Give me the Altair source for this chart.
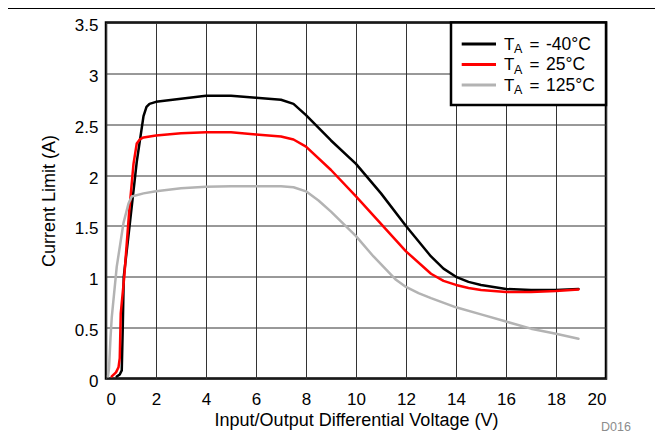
import altair as alt
import pandas as pd

# ---------------- data ----------------
series_names = ["-40°C", "25°C", "125°C"]
series_colors = ["#000000", "#ff0000", "#b3b3b3"]

x_m40 = [0.43, 0.55, 0.63, 0.67, 0.71, 0.85, 0.97, 1.23, 1.50, 1.62, 1.74, 2.0, 3.0, 4.0, 5.0, 6.0, 7.0, 7.5,
         8.0, 9.0, 10.0, 11.0, 12.0, 13.0, 13.5, 14.0, 14.5, 15.0, 16.0, 17.0, 18.0, 18.9]
y_m40 = [0.02, 0.04, 0.08, 0.50, 1.00, 1.30, 1.56, 2.13, 2.58, 2.67, 2.70, 2.72, 2.75, 2.78, 2.78, 2.76, 2.74, 2.70,
         2.59, 2.34, 2.11, 1.82, 1.50, 1.20, 1.08, 1.00, 0.95, 0.92, 0.88, 0.87, 0.87, 0.88]

x_25 = [0.23, 0.40, 0.50, 0.55, 0.59, 0.73, 0.92, 1.10, 1.23, 1.35, 1.50, 2.0, 3.0, 4.0, 5.0, 6.0, 7.0, 7.5,
        8.0, 9.0, 10.0, 11.0, 12.0, 13.0, 13.5, 14.0, 14.5, 15.0, 16.0, 17.0, 18.0, 18.9]
y_25 = [0.02, 0.06, 0.11, 0.20, 0.64, 1.00, 1.62, 2.11, 2.31, 2.35, 2.37, 2.39, 2.41, 2.42, 2.42, 2.40, 2.38, 2.35,
        2.28, 2.05, 1.79, 1.52, 1.25, 1.03, 0.96, 0.92, 0.89, 0.87, 0.85, 0.85, 0.86, 0.875]

x_125 = [0.08, 0.12, 0.18, 0.23, 0.43, 0.70, 0.90, 1.03, 1.5, 2.0, 3.0, 4.0, 5.0, 6.0, 7.0, 7.5,
         8.0, 8.5, 9.0, 10.0, 10.7, 11.6, 12.0, 12.5, 13.0, 14.0, 15.0, 16.0, 17.0, 18.0, 18.9]
y_125 = [0.02, 0.10, 0.40, 0.60, 1.10, 1.53, 1.72, 1.79, 1.82, 1.84, 1.87, 1.885, 1.89, 1.89, 1.89, 1.88,
         1.84, 1.75, 1.64, 1.40, 1.20, 0.97, 0.90, 0.84, 0.79, 0.70, 0.63, 0.56, 0.49, 0.44, 0.39]

x_ticks = [0, 2, 4, 6, 8, 10, 12, 14, 16, 18, 20]
y_ticks = [0, 0.5, 1, 1.5, 2, 2.5, 3, 3.5]

x_title = "Input/Output Differential Voltage (V)"
y_title = "Current Limit (A)"
doc_id = "D016"

FONT = "Liberation Sans"

rows = []
for name, xs, ys in zip(series_names, [x_m40, x_25, x_125], [y_m40, y_25, y_125]):
    for k, (a, b) in enumerate(zip(xs, ys)):
        rows.append({"series": name, "v": a, "i": b, "k": k})
df = pd.DataFrame(rows)

one = pd.DataFrame({"d": [0]})

# ---------------- main lines ----------------
lines = alt.Chart(df).mark_line(strokeWidth=2.5, strokeJoin="round", strokeCap="round").encode(
    x=alt.X("v:Q", scale=alt.Scale(domain=[0, 20], nice=False, zero=False),
            axis=alt.Axis(values=x_ticks, title=x_title, format="~g",
                          labelPadding=12.5, titleBaseline="alphabetic", titleY=47, titleX=250)),
    y=alt.Y("i:Q", scale=alt.Scale(domain=[0, 3.5], nice=False),
            axis=alt.Axis(values=y_ticks, title=y_title, format="~g",
                          labelPadding=8, labelOffset=3,
                          titleBaseline="alphabetic", titleX=-52, titleY=178)),
    color=alt.Color("series:N", scale=alt.Scale(domain=series_names, range=series_colors), legend=None),
    order="k:Q",
)

# ---------------- manual legend ----------------
LF = 17
legend_layers = [
    alt.Chart(one).mark_rect(fill="white", stroke="black", strokeWidth=2.5).encode(
        x=alt.value(345), x2=alt.value(500), y=alt.value(0), y2=alt.value(82.5))
]
for idx, (name, col) in enumerate(zip(series_names, series_colors)):
    sy = 21.5 + 20.5 * idx
    ty = 27 + 20.5 * idx
    legend_layers.append(
        alt.Chart(one).mark_rule(color=col, strokeWidth=3).encode(
            x=alt.value(355.7), x2=alt.value(390), y=alt.value(sy)))
    legend_layers.append(
        alt.Chart(pd.DataFrame({"t": ["T"]})).mark_text(
            font=FONT, fontSize=LF, align="left", baseline="alphabetic", color="black").encode(
            x=alt.value(398), y=alt.value(ty), text="t:N"))
    legend_layers.append(
        alt.Chart(pd.DataFrame({"t": ["A"]})).mark_text(
            font=FONT, fontSize=12.5, align="left", baseline="alphabetic", color="black").encode(
            x=alt.value(408), y=alt.value(ty + 3.7), text="t:N"))
    legend_layers.append(
        alt.Chart(pd.DataFrame({"t": ["="]})).mark_text(
            font=FONT, fontSize=LF, align="left", baseline="alphabetic", color="black").encode(
            x=alt.value(423.5), y=alt.value(ty), text="t:N"))
    legend_layers.append(
        alt.Chart(pd.DataFrame({"t": [name]})).mark_text(
            font=FONT, fontSize=LF + 0.5, align="left", baseline="alphabetic", color="black").encode(
            x=alt.value(440), y=alt.value(ty), text="t:N"))

# ---------------- decorations ----------------
top_rule = alt.Chart(one).mark_rule(color="black", strokeWidth=1).encode(
    x=alt.value(-98), x2=alt.value(549), y=alt.value(-14))

doc_text = alt.Chart(pd.DataFrame({"t": [doc_id]})).mark_text(
    font=FONT, fontSize=12.5, align="left", baseline="alphabetic", color="#8c8c8c").encode(
    x=alt.value(495), y=alt.value(408.5), text="t:N")

chart = alt.layer(lines, *legend_layers, top_rule, doc_text).properties(
    width=500,
    height=356,
    autosize=alt.AutoSizeParams(type="none"),
    padding={"left": 98, "top": 14.5, "right": 49, "bottom": 57},
).configure_view(
    stroke="black", strokeWidth=2.5
).configure_axis(
    labelFont=FONT, labelFontSize=17, labelColor="black",
    titleFont=FONT, titleFontSize=18, titleFontWeight="normal", titleColor="black",
    grid=True, gridColor="#333333", gridWidth=1, gridOpacity=1,
    domain=False, ticks=False, tickSize=0,
).configure_text(font=FONT)

chart.save("out.html", embed_options={"renderer": "svg", "actions": False})
